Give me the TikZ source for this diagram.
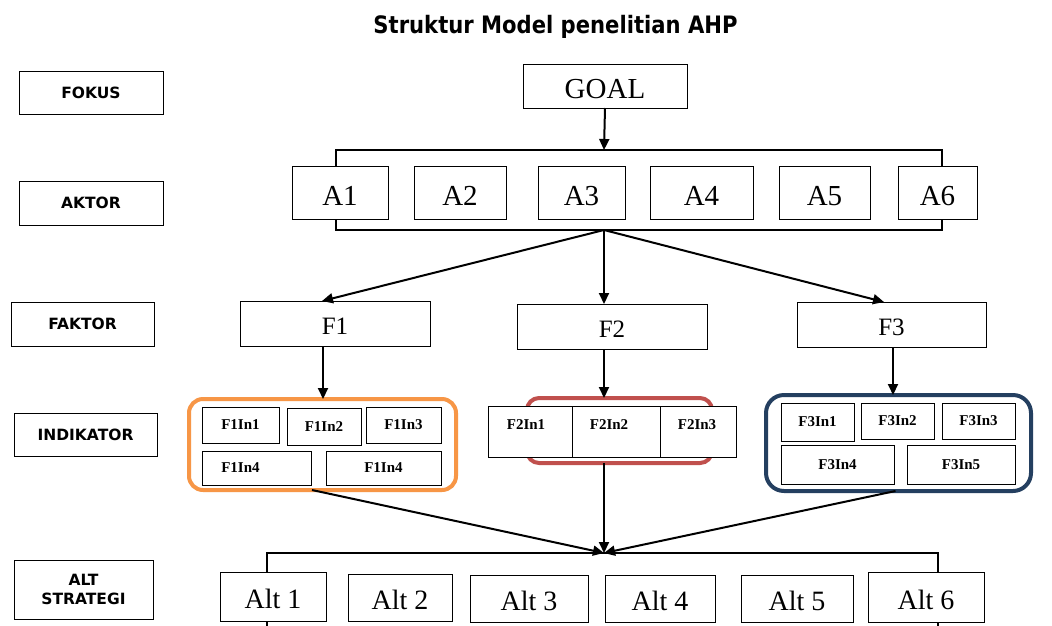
\documentclass[tikz,border=0pt]{standalone}
\usepackage{graphicx}
\usepackage{fontspec}
\setmainfont{Liberation Serif}
\newfontfamily\lblfont{DejaVu Sans}
\usetikzlibrary{arrows.meta}
\definecolor{orangeF}{HTML}{F79646}
\definecolor{redF}{HTML}{C0504D}
\definecolor{blueF}{HTML}{243F60}
\begin{document}
\begin{tikzpicture}[x=1pt,y=-1pt,
  box/.style={draw=black, line width=1pt, fill=white, inner sep=0pt, outer sep=0pt},
  lbl/.style={box, font=\lblfont\bfseries\fontsize{15.5}{19}\selectfont, align=center},
  big/.style={box, font=\fontsize{29}{32}\selectfont, text height=25pt, text depth=0pt},
  altbox/.style={box, font=\fontsize{28}{32}\selectfont, text height=24pt, text depth=0pt},
  fbox/.style={box, font=\fontsize{25}{28}\selectfont, text height=22pt, text depth=0pt},
  ind/.style={box, font=\bfseries\fontsize{15}{16}\selectfont},
  txt/.style={inner sep=0pt, outer sep=0pt},
  arr/.style={line width=2pt, -{Triangle[length=11pt,width=10pt]}},
  brk/.style={line width=1.5pt},
  grp/.style={line width=4pt, inner sep=0pt, outer sep=0pt},
]
\clip (0,0) rectangle (1052,625);
\fill[white] (0,0) rectangle (1052,625);

% title
\node[txt, anchor=base, font=\lblfont\bfseries\fontsize{24}{28}\selectfont] (title) at (555.5,33) {\scalebox{0.88}[1]{Struktur Model penelitian AHP}};

% left level labels
\node[lbl, minimum width=144, minimum height=43] (fokus) at (91,92.5) {FOKUS};
\node[lbl, minimum width=144, minimum height=44] (aktor) at (91,203) {AKTOR};
\node[lbl, minimum width=143, minimum height=44] (faktor) at (82.5,324) {FAKTOR};
\node[lbl, minimum width=143, minimum height=43] (indik) at (85.5,434.5) {INDIKATOR};
\node[lbl, minimum width=139, minimum height=59] (altstr) at (83.5,589.5) {ALT\\STRATEGI};

% goal
\node[big, minimum width=164, minimum height=44] (goal) at (605,86) {GOAL};

% actor bracket
\coordinate (btop) at (604,150);
\coordinate (bbot) at (604,230);
\draw[brk] (336,150) rectangle (942,230);
\draw[arr] (goal.south) -- (btop);

\node[big, minimum width=96, minimum height=53] (a1) at (340,192.5) {A1};
\node[big, minimum width=92, minimum height=53] (a2) at (460,192.5) {A2};
\node[big, minimum width=87, minimum height=53] (a3) at (581.5,192.5) {A3};
\node[big, minimum width=103, minimum height=53] (a4) at (701.5,192.5) {A4};
\node[big, minimum width=91, minimum height=53] (a5) at (824.5,192.5) {A5};
\node[big, minimum width=79, minimum height=53] (a6) at (937.5,192.5) {A6};

% factors
\node[fbox, minimum width=190, minimum height=45] (f1) at (335,323.5) {F1};
\node[fbox, minimum width=190, minimum height=45] (f2) at (612,326.5) {F2};
\node[fbox, minimum width=189, minimum height=45] (f3) at (891.5,324.5) {F3};
\draw[arr] (bbot) -- ([xshift=-13pt]f1.north);
\draw[arr] (bbot) -- ([xshift=-8pt]f2.north);
\draw[arr] (bbot) -- ([xshift=-7.5pt]f3.north);

% indicator groups
\node[grp, draw=orangeF, rounded corners=14pt, minimum width=267, minimum height=91] (og) at (322.5,444.5) {};
\node[grp, draw=redF, rounded corners=12pt, minimum width=185, minimum height=65] (rg) at (619.5,430.5) {};
\node[grp, draw=blueF, rounded corners=18pt, minimum width=265, minimum height=96] (bg) at (898.5,443) {};
\draw[arr] ([xshift=-12pt]f1.south) -- ([xshift=0.5pt]og.north);
\draw[arr] ([xshift=-8pt]f2.south) -- ([xshift=-15.5pt]rg.north);
\draw[arr] ([xshift=1.5pt]f3.south) -- ([xshift=-5.5pt]bg.north);

% F1 indicators
\node[ind, minimum width=77, minimum height=36] (f1in1) at (240.5,425) {F1In1};
\node[ind, minimum width=74, minimum height=37] (f1in2) at (324,426.5) {F1In2};
\node[ind, minimum width=75, minimum height=36] (f1in3) at (403.5,425) {F1In3};
\node[ind, minimum width=109, minimum height=34] (f1in4a) at (256.5,468) {F1In4\hspace*{32pt}};
\node[ind, minimum width=115, minimum height=34] (f1in4b) at (383.5,468) {F1In4};

% F2 indicators (table)
\node[box, minimum width=84, minimum height=51] (f2c1) at (530,431.5) {};
\node[box, minimum width=88, minimum height=51] (f2c2) at (616,431.5) {};
\node[box, minimum width=76, minimum height=51] (f2c3) at (698,431.5) {};
\node[txt, font=\bfseries\fontsize{15}{16}\selectfont] (f2in1) at (526,425) {F2In1};
\node[txt, font=\bfseries\fontsize{15}{16}\selectfont] (f2in2) at (609,425) {F2In2};
\node[txt, font=\bfseries\fontsize{15}{16}\selectfont] (f2in3) at (697,425) {F2In3};

% F3 indicators
\node[ind, minimum width=73, minimum height=38] (f3in1) at (817.5,422) {F3In1};
\node[ind, minimum width=73, minimum height=36] (f3in2) at (897.5,421) {F3In2};
\node[ind, minimum width=73, minimum height=36] (f3in3) at (978.5,421) {F3In3};
\node[ind, minimum width=113, minimum height=39] (f3in4) at (837.5,464.5) {F3In4};
\node[ind, minimum width=108, minimum height=39] (f3in5) at (961,464.5) {F3In5};

% convergence to alternatives
\coordinate (conv) at (604,553);
\draw[arr] ([xshift=-10.5pt]og.south) -- (conv);
\draw[arr] ([xshift=-15.5pt]rg.south) -- (conv);
\draw[arr] ([xshift=-3pt]bg.south) -- (conv);

\coordinate (altl) at (267,640);
\coordinate (altr) at (938,640);
\draw[brk] (altl) -- (267,553) -- (938,553) -- (altr);

\node[altbox, minimum width=106, minimum height=49] (alt1) at (273,596.5) {Alt 1};
\node[altbox, minimum width=104, minimum height=47] (alt2) at (400,597.5) {Alt 2};
\node[altbox, minimum width=118, minimum height=47] (alt3) at (529,598.5) {Alt 3};
\node[altbox, minimum width=110, minimum height=47] (alt4) at (660,598.5) {Alt 4};
\node[altbox, minimum width=112, minimum height=47] (alt5) at (797,598.5) {Alt 5};
\node[altbox, minimum width=116, minimum height=50] (alt6) at (926,597) {Alt 6};
\end{tikzpicture}
\end{document}
